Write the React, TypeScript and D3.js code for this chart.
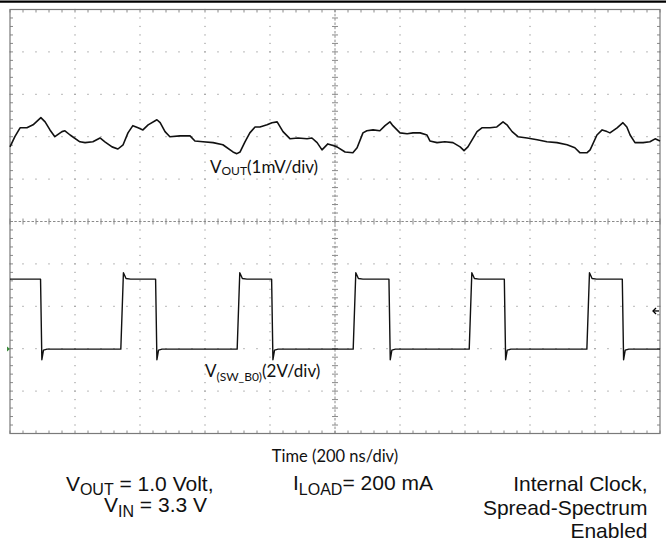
import React from "react";
import * as d3 from "d3";

const W = 666;
const H = 545;

// ---------- DATA ----------
// Time axis: 200 ns/div, 10 divisions
const timeDomainNs = [0, 2000];
const minorPerDiv = 5;

// V_OUT ripple trace (1 mV/div), values in mV relative to screen centre
const voutTimeNs = [
  0, 15, 31, 52, 71, 95, 108, 123, 138, 160, 169, 185, 215, 231, 255, 277, 292, 314, 332, 348,
  363, 378, 394, 409, 425, 452, 462, 477, 492, 523, 554, 569, 594, 625, 655, 686, 698, 708, 723, 738,
  754, 769, 791, 806, 822, 840, 862, 886, 914, 929, 945, 960, 978, 994, 1006, 1031, 1055, 1068, 1086, 1098,
  1117, 1138, 1154, 1169, 1178, 1200, 1222, 1240, 1262, 1283, 1292, 1314, 1338, 1363, 1385, 1397, 1409, 1437, 1452, 1477,
  1498, 1517, 1529, 1545, 1563, 1591, 1622, 1652, 1683, 1714, 1738, 1754, 1775, 1785, 1806, 1822, 1837, 1846, 1868, 1886,
  1898, 1908, 1923, 1948, 1969, 1985, 2000,
];
const voutMv = [
  1.76, 2.0, 2.21, 2.21, 2.28, 2.45, 2.35, 2.16, 2.0, 2.12, 2.14, 2.04, 1.88, 1.86, 1.88, 1.97, 1.88, 1.76, 1.71, 1.81,
  2.09, 2.26, 2.21, 2.16, 2.28, 2.4, 2.33, 2.12, 2.0, 2.02, 2.02, 1.9, 1.88, 1.86, 1.81, 1.64, 1.6, 1.64, 1.88, 2.09,
  2.23, 2.23, 2.28, 2.33, 2.35, 2.12, 1.95, 1.97, 1.95, 1.97, 1.86, 1.69, 1.83, 1.79, 1.76, 1.64, 1.62, 1.74, 2.09, 2.14,
  2.16, 2.14, 2.26, 2.35, 2.26, 2.09, 2.07, 2.09, 2.09, 2.04, 1.9, 1.86, 1.88, 1.86, 1.76, 1.67, 1.76, 2.12, 2.21, 2.21,
  2.23, 2.35, 2.28, 2.12, 2.0, 1.97, 1.93, 1.88, 1.86, 1.81, 1.74, 1.62, 1.62, 1.69, 2.04, 2.16, 2.12, 2.09, 2.21, 2.33,
  2.23, 2.04, 1.86, 1.86, 1.88, 1.95, 1.9,
];
const voutMvPerDiv = 1;
const voutOffsetDiv = 0;

// Switch node V(SW_B0) trace (2 V/div)
const swRiseNs = [341, 699, 1056, 1413, 1775];
const swFallNs = [94, 448, 805, 1166, 1521, 1884];
const swLowV = 0;
const swHighV = 3.3;
const swOvershootV = 3.6;
const swUndershootV = -0.5;
const swVPerDiv = 2;
const swOffsetDiv = -3.01;
const swGroundMarkerV = 0;
const triggerLevelV = 1.8;

// ---------- LAYOUT ----------
const plotLeft = 10;
const plotRight = 660;
const plotTop = 9.5;
const plotBottom = 433.5;

const x = d3.scaleLinear().domain(timeDomainNs).range([plotLeft, plotRight]);
const yDiv = d3.scaleLinear().domain([-5, 5]).range([plotBottom, plotTop]);
const yVout = (mv: number) => yDiv(mv / voutMvPerDiv + voutOffsetDiv);
const ySw = (v: number) => yDiv(v / swVPerDiv + swOffsetDiv);

type Pt = [number, number];

function buildSwitchPoints(): Pt[] {
  const edges = [
    ...swRiseNs.map((t) => ({ t, kind: "rise" })),
    ...swFallNs.map((t) => ({ t, kind: "fall" })),
  ].sort((a, b) => a.t - b.t);
  let level = edges[0].kind === "fall" ? swHighV : swLowV;
  const pts: Pt[] = [[timeDomainNs[0], level]];
  for (const e of edges) {
    if (e.kind === "fall") {
      pts.push([e.t, swHighV]);
      pts.push([e.t + 4, swUndershootV]);
      pts.push([e.t + 9, swLowV - 0.05]);
      pts.push([e.t + 20, swLowV]);
      level = swLowV;
    } else {
      pts.push([e.t, swLowV]);
      pts.push([e.t + 8, swOvershootV]);
      pts.push([e.t + 16, swHighV + 0.03]);
      pts.push([e.t + 30, swHighV]);
      level = swHighV;
    }
  }
  pts.push([timeDomainNs[1], level]);
  return pts;
}

const voutLine = d3
  .line<number>()
  .x((_, i) => x(voutTimeNs[i]))
  .y((v) => yVout(v))
  .curve(d3.curveLinear);

const swLine = d3
  .line<Pt>()
  .x((d) => x(d[0]))
  .y((d) => ySw(d[1]));

const majorX = d3.range(0, 11).map((i) => x(timeDomainNs[0] + (i * (timeDomainNs[1] - timeDomainNs[0])) / 10));
const majorY = d3.range(-5, 6).map((d) => yDiv(d));
const minorX = d3.range(0, 10 * minorPerDiv + 1).map((i) => x((i * (timeDomainNs[1] - timeDomainNs[0])) / (10 * minorPerDiv)));
const minorY = d3.range(0, 10 * minorPerDiv + 1).map((i) => yDiv(-5 + i / minorPerDiv));

const GRID = "#8a8a8a";
const TRACE = "#111";

export default function App() {
  const cx = x((timeDomainNs[0] + timeDomainNs[1]) / 2);
  const cy = yDiv(0);
  const swPts = buildSwitchPoints();
  const tick = 3;
  const chartFont = "Lato, 'Open Sans', sans-serif";
  const noteFont = "'Liberation Sans', Arial, sans-serif";

  return (
    <svg
      width={W}
      height={H}
      style={{ position: "absolute", left: 0, top: 0, background: "#fff" }}
    >
      <rect x={0} y={0} width={W} height={H} fill="#fff" />
      {/* top black bar */}
      <line x1={0} x2={W} y1={1.6} y2={1.6} stroke="#000" strokeWidth={2.2} />

      {/* dotted major grid lines */}
      <g stroke={GRID} strokeWidth={1}>
        {majorY.slice(1, -1).filter((y) => Math.abs(y - cy) > 1).map((y, i) =>
          minorX.map((mx, j) => (
            <line key={`hy${i}-${j}`} x1={mx - 0.6} x2={mx + 0.6} y1={y} y2={y} />
          ))
        )}
        {majorX.slice(1, -1).filter((xx) => Math.abs(xx - cx) > 1).map((xx, i) =>
          minorY.map((my, j) => (
            <line key={`vx${i}-${j}`} x1={xx} x2={xx} y1={my - 0.6} y2={my + 0.6} />
          ))
        )}
      </g>

      {/* centre lines with ticks */}
      <g stroke={GRID} strokeWidth={1}>
        <line x1={plotLeft} x2={plotRight} y1={cy} y2={cy} strokeDasharray="2.5,1.8" />
        <line x1={cx} x2={cx} y1={plotTop} y2={plotBottom} strokeDasharray="2.5,1.8" />
        {minorX.map((mx, i) => (
          <line key={`ct${i}`} x1={mx} x2={mx} y1={cy - tick} y2={cy + tick} />
        ))}
        {minorY.map((my, i) => (
          <line key={`cv${i}`} x1={cx - tick} x2={cx + tick} y1={my} y2={my} />
        ))}
        {/* frame ticks */}
        {minorX.map((mx, i) => (
          <g key={`ft${i}`}>
            <line x1={mx} x2={mx} y1={plotTop} y2={plotTop + tick} />
            <line x1={mx} x2={mx} y1={plotBottom} y2={plotBottom - tick} />
          </g>
        ))}
        {minorY.map((my, i) => (
          <g key={`fl${i}`}>
            <line x1={plotLeft} x2={plotLeft + tick} y1={my} y2={my} />
            <line x1={plotRight} x2={plotRight - tick} y1={my} y2={my} />
          </g>
        ))}
      </g>
      <rect
        x={plotLeft}
        y={plotTop}
        width={plotRight - plotLeft}
        height={plotBottom - plotTop}
        fill="none"
        stroke="#7a7a7a"
        strokeWidth={1.2}
      />

      {/* traces */}
      <path d={voutLine(voutMv) || ""} fill="none" stroke={TRACE} strokeWidth={1.6} strokeLinejoin="round" />
      <path d={swLine(swPts) || ""} fill="none" stroke={TRACE} strokeWidth={1.4} strokeLinejoin="round" />

      {/* ground marker and trigger level marker */}
      <path
        d={`M${plotLeft - 3},${ySw(swGroundMarkerV) - 2.5} L${plotLeft},${ySw(swGroundMarkerV)} L${plotLeft - 3},${ySw(swGroundMarkerV) + 2.5} Z`}
        fill="#3a8a3a"
      />
      <g stroke="#000" strokeWidth={1.3} fill="none">
        <line x1={plotRight - 7} x2={plotRight - 1} y1={ySw(triggerLevelV)} y2={ySw(triggerLevelV)} />
        <path d={`M${plotRight - 4},${ySw(triggerLevelV) - 3} L${plotRight - 7},${ySw(triggerLevelV)} L${plotRight - 4},${ySw(triggerLevelV) + 3}`} />
      </g>

      {/* trace labels */}
      <text x={210} y={173} fontFamily={chartFont} fontSize={17} fill="#111">
        V<tspan fontSize={12} dy={1.5}>OUT</tspan>
        <tspan fontSize={17} dy={-1.5}>(1mV/div)</tspan>
      </text>
      <text x={205} y={376.5} fontFamily={chartFont} fontSize={17} fill="#111">
        V<tspan fontSize={12} dy={4}>(SW_B0)</tspan>
        <tspan fontSize={17} dy={-4}>(2V/div)</tspan>
      </text>
      <text x={335} y={461.5} fontFamily={chartFont} fontSize={16.5} fill="#111" textAnchor="middle">
        Time (200 ns/div)
      </text>

      {/* condition notes */}
      <g fontFamily={noteFont} fontSize={21} fill="#111">
        <text x={213.5} y={490.5} textAnchor="end">
          V<tspan fontSize={16} dy={4.5}>OUT</tspan>
          <tspan fontSize={21} dy={-4.5}> = 1.0 Volt,</tspan>
        </text>
        <text x={207} y={512} textAnchor="end">
          V<tspan fontSize={16} dy={4.5}>IN</tspan>
          <tspan fontSize={21} dy={-4.5}> = 3.3 V</tspan>
        </text>
        <text x={293} y={490} textAnchor="start">
          I<tspan fontSize={16} dy={4.5}>LOAD</tspan>
          <tspan fontSize={21} dy={-4.5}>= 200 mA</tspan>
        </text>
        <text x={647.5} y={491} textAnchor="end">Internal Clock,</text>
        <text x={647.5} y={514.5} textAnchor="end">Spread-Spectrum</text>
        <text x={647.5} y={538} textAnchor="end">Enabled</text>
      </g>
    </svg>
  );
}
